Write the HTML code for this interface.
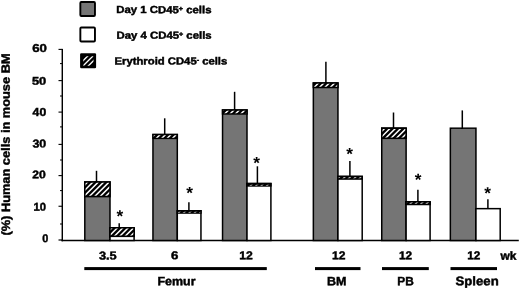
<!DOCTYPE html>
<html><head><meta charset="utf-8"><title>Figure</title>
<style>html,body{margin:0;padding:0;background:#fff}svg{display:block}text{font-family:"Liberation Sans",Arial,Helvetica,sans-serif;font-weight:bold;fill:#000;stroke:#000;stroke-width:0.45px}</style>
</head><body>
<svg width="520" height="288" viewBox="0 0 520 288">
<defs><filter id="b" x="0" y="0" width="520" height="288" filterUnits="userSpaceOnUse"><feGaussianBlur stdDeviation="0.22"/></filter></defs>
<rect width="520" height="288" fill="#fff"/>
<g filter="url(#b)">
<rect width="520" height="288" fill="#fff"/>
<rect x="80.35" y="1.95" width="14.6" height="14.1" fill="#757575" stroke="#000" stroke-width="1.9" rx="1"/>
<rect x="80.35" y="27.45" width="14.6" height="14.1" fill="#fff" stroke="#000" stroke-width="1.9" rx="1"/>
<rect x="80.1" y="53.3" width="16" height="14.9" fill="#000" rx="1.2"/>
<clipPath id="lc"><rect x="83.3" y="56.2" width="10.2" height="9.5"/></clipPath>
<g clip-path="url(#lc)" stroke="#fff" stroke-width="1.35">
<line x1="68.80" y1="75" x2="98.80" y2="45"/>
<line x1="74.00" y1="75" x2="104.00" y2="45"/>
<line x1="79.20" y1="75" x2="109.20" y2="45"/>
</g>
<line x1="62.3" y1="48.9" x2="62.3" y2="241.3" stroke="#000" stroke-width="1.45"/>
<line x1="61.5" y1="240.5" x2="518.8" y2="240.5" stroke="#000" stroke-width="1.7"/>
<line x1="58.5" y1="240.0" x2="62.3" y2="240.0" stroke="#000" stroke-width="1.2"/>
<line x1="58.5" y1="49.4" x2="62.3" y2="49.4" stroke="#000" stroke-width="1.1"/>
<line x1="58.5" y1="80.6" x2="62.3" y2="80.6" stroke="#000" stroke-width="1.1"/>
<line x1="58.5" y1="112.1" x2="62.3" y2="112.1" stroke="#000" stroke-width="1.1"/>
<line x1="58.5" y1="144.4" x2="62.3" y2="144.4" stroke="#000" stroke-width="1.1"/>
<line x1="58.5" y1="175.6" x2="62.3" y2="175.6" stroke="#000" stroke-width="1.1"/>
<line x1="58.5" y1="206.25" x2="62.3" y2="206.25" stroke="#000" stroke-width="1.1"/>
<line x1="60" y1="63.6" x2="62.3" y2="63.6" stroke="#000" stroke-width="1"/>
<line x1="60" y1="96" x2="62.3" y2="96" stroke="#000" stroke-width="1"/>
<line x1="60" y1="126.9" x2="62.3" y2="126.9" stroke="#000" stroke-width="1"/>
<line x1="60" y1="160" x2="62.3" y2="160" stroke="#000" stroke-width="1"/>
<line x1="60" y1="190.6" x2="62.3" y2="190.6" stroke="#000" stroke-width="1"/>
<line x1="60" y1="224" x2="62.3" y2="224" stroke="#000" stroke-width="1"/>
<text transform="translate(9.9,235.6) rotate(-90.04)" font-size="12" textLength="182.2" lengthAdjust="spacingAndGlyphs">(%) Human cells in mouse BM</text>
<rect x="84.80" y="181.95" width="25.20" height="58.55" fill="#757575" stroke="#000" stroke-width="1.5"/>
<rect x="84.05" y="181.20" width="26.70" height="16.15" fill="#000"/>
<clipPath id="c1"><rect x="85.55" y="182.70" width="23.70" height="13.15"/></clipPath>
<g clip-path="url(#c1)" stroke="#fff" stroke-width="1.5">
<line x1="71.75" y1="197.85" x2="88.90" y2="180.70"/>
<line x1="77.15" y1="197.85" x2="94.30" y2="180.70"/>
<line x1="82.55" y1="197.85" x2="99.70" y2="180.70"/>
<line x1="87.95" y1="197.85" x2="105.10" y2="180.70"/>
<line x1="93.35" y1="197.85" x2="110.50" y2="180.70"/>
<line x1="98.75" y1="197.85" x2="115.90" y2="180.70"/>
<line x1="104.15" y1="197.85" x2="121.30" y2="180.70"/>
</g>
<rect x="110.00" y="227.85" width="24.10" height="12.65" fill="#fff" stroke="#000" stroke-width="1.5"/>
<rect x="109.25" y="227.10" width="25.60" height="10.00" fill="#000"/>
<clipPath id="c2"><rect x="110.75" y="228.60" width="22.60" height="7.00"/></clipPath>
<g clip-path="url(#c2)" stroke="#fff" stroke-width="1.5">
<line x1="102.20" y1="237.60" x2="113.20" y2="226.60"/>
<line x1="107.60" y1="237.60" x2="118.60" y2="226.60"/>
<line x1="113.00" y1="237.60" x2="124.00" y2="226.60"/>
<line x1="118.40" y1="237.60" x2="129.40" y2="226.60"/>
<line x1="123.80" y1="237.60" x2="134.80" y2="226.60"/>
<line x1="129.20" y1="237.60" x2="140.20" y2="226.60"/>
</g>
<rect x="152.95" y="134.55" width="24.35" height="105.95" fill="#757575" stroke="#000" stroke-width="1.5"/>
<rect x="152.20" y="133.80" width="25.85" height="5.35" fill="#000"/>
<clipPath id="c3"><rect x="153.70" y="135.30" width="22.85" height="2.35"/></clipPath>
<g clip-path="url(#c3)" stroke="#fff" stroke-width="1.5">
<line x1="149.65" y1="139.65" x2="156.00" y2="133.30"/>
<line x1="155.05" y1="139.65" x2="161.40" y2="133.30"/>
<line x1="160.45" y1="139.65" x2="166.80" y2="133.30"/>
<line x1="165.85" y1="139.65" x2="172.20" y2="133.30"/>
<line x1="171.25" y1="139.65" x2="177.60" y2="133.30"/>
</g>
<rect x="177.30" y="210.75" width="23.65" height="29.75" fill="#fff" stroke="#000" stroke-width="1.5"/>
<rect x="176.55" y="210.00" width="25.15" height="3.80" fill="#000"/>
<clipPath id="c4"><rect x="178.05" y="211.85" width="22.15" height="1.00"/></clipPath>
<g clip-path="url(#c4)" stroke="#bbb" stroke-width="1.5">
<line x1="176.45" y1="214.85" x2="181.45" y2="209.85"/>
<line x1="181.85" y1="214.85" x2="186.85" y2="209.85"/>
<line x1="187.25" y1="214.85" x2="192.25" y2="209.85"/>
<line x1="192.65" y1="214.85" x2="197.65" y2="209.85"/>
<line x1="198.05" y1="214.85" x2="203.05" y2="209.85"/>
</g>
<rect x="222.55" y="109.95" width="24.45" height="130.55" fill="#757575" stroke="#000" stroke-width="1.5"/>
<rect x="221.80" y="109.20" width="25.95" height="5.50" fill="#000"/>
<clipPath id="c5"><rect x="223.30" y="110.70" width="22.95" height="2.50"/></clipPath>
<g clip-path="url(#c5)" stroke="#fff" stroke-width="1.5">
<line x1="218.00" y1="115.20" x2="224.50" y2="108.70"/>
<line x1="223.40" y1="115.20" x2="229.90" y2="108.70"/>
<line x1="228.80" y1="115.20" x2="235.30" y2="108.70"/>
<line x1="234.20" y1="115.20" x2="240.70" y2="108.70"/>
<line x1="239.60" y1="115.20" x2="246.10" y2="108.70"/>
<line x1="245.00" y1="115.20" x2="251.50" y2="108.70"/>
</g>
<rect x="247.00" y="183.55" width="23.90" height="56.95" fill="#fff" stroke="#000" stroke-width="1.5"/>
<rect x="246.25" y="182.80" width="25.40" height="3.90" fill="#000"/>
<clipPath id="c6"><rect x="247.75" y="184.70" width="22.40" height="1.00"/></clipPath>
<g clip-path="url(#c6)" stroke="#bbb" stroke-width="1.5">
<line x1="243.30" y1="187.70" x2="248.30" y2="182.70"/>
<line x1="248.70" y1="187.70" x2="253.70" y2="182.70"/>
<line x1="254.10" y1="187.70" x2="259.10" y2="182.70"/>
<line x1="259.50" y1="187.70" x2="264.50" y2="182.70"/>
<line x1="264.90" y1="187.70" x2="269.90" y2="182.70"/>
</g>
<rect x="313.35" y="83.00" width="24.60" height="157.50" fill="#757575" stroke="#000" stroke-width="1.5"/>
<rect x="312.60" y="82.25" width="26.10" height="6.00" fill="#000"/>
<clipPath id="c7"><rect x="314.10" y="83.75" width="23.10" height="3.00"/></clipPath>
<g clip-path="url(#c7)" stroke="#fff" stroke-width="1.5">
<line x1="307.35" y1="88.75" x2="314.35" y2="81.75"/>
<line x1="312.75" y1="88.75" x2="319.75" y2="81.75"/>
<line x1="318.15" y1="88.75" x2="325.15" y2="81.75"/>
<line x1="323.55" y1="88.75" x2="330.55" y2="81.75"/>
<line x1="328.95" y1="88.75" x2="335.95" y2="81.75"/>
<line x1="334.35" y1="88.75" x2="341.35" y2="81.75"/>
</g>
<rect x="337.95" y="176.45" width="24.25" height="64.05" fill="#fff" stroke="#000" stroke-width="1.5"/>
<rect x="337.20" y="175.70" width="25.75" height="4.10" fill="#000"/>
<clipPath id="c8"><rect x="338.70" y="177.20" width="22.75" height="1.10"/></clipPath>
<g clip-path="url(#c8)" stroke="#eee" stroke-width="1.5">
<line x1="336.10" y1="180.30" x2="341.20" y2="175.20"/>
<line x1="341.50" y1="180.30" x2="346.60" y2="175.20"/>
<line x1="346.90" y1="180.30" x2="352.00" y2="175.20"/>
<line x1="352.30" y1="180.30" x2="357.40" y2="175.20"/>
<line x1="357.70" y1="180.30" x2="362.80" y2="175.20"/>
</g>
<rect x="381.75" y="128.15" width="24.35" height="112.35" fill="#757575" stroke="#000" stroke-width="1.5"/>
<rect x="381.00" y="127.40" width="25.85" height="11.70" fill="#000"/>
<clipPath id="c9"><rect x="382.50" y="128.90" width="22.85" height="8.70"/></clipPath>
<g clip-path="url(#c9)" stroke="#fff" stroke-width="1.5">
<line x1="373.45" y1="139.60" x2="386.15" y2="126.90"/>
<line x1="378.85" y1="139.60" x2="391.55" y2="126.90"/>
<line x1="384.25" y1="139.60" x2="396.95" y2="126.90"/>
<line x1="389.65" y1="139.60" x2="402.35" y2="126.90"/>
<line x1="395.05" y1="139.60" x2="407.75" y2="126.90"/>
<line x1="400.45" y1="139.60" x2="413.15" y2="126.90"/>
</g>
<rect x="406.10" y="201.85" width="24.00" height="38.65" fill="#fff" stroke="#000" stroke-width="1.5"/>
<rect x="405.35" y="201.10" width="25.50" height="4.15" fill="#000"/>
<clipPath id="c10"><rect x="406.85" y="202.60" width="22.50" height="1.15"/></clipPath>
<g clip-path="url(#c10)" stroke="#ccc" stroke-width="1.5">
<line x1="402.95" y1="205.75" x2="408.10" y2="200.60"/>
<line x1="408.35" y1="205.75" x2="413.50" y2="200.60"/>
<line x1="413.75" y1="205.75" x2="418.90" y2="200.60"/>
<line x1="419.15" y1="205.75" x2="424.30" y2="200.60"/>
<line x1="424.55" y1="205.75" x2="429.70" y2="200.60"/>
</g>
<rect x="450.35" y="128.20" width="25.60" height="112.30" fill="#757575" stroke="#000" stroke-width="1.5"/>
<rect x="475.95" y="208.65" width="24.25" height="31.85" fill="#fff" stroke="#000" stroke-width="1.5"/>
<line x1="96.5" y1="170.8" x2="96.5" y2="181.95000000000002" stroke="#000" stroke-width="1.5"/>
<line x1="119.2" y1="223.2" x2="119.2" y2="227.85" stroke="#000" stroke-width="1.5"/>
<line x1="164.7" y1="118.3" x2="164.7" y2="134.55" stroke="#000" stroke-width="1.5"/>
<line x1="188.9" y1="202.2" x2="188.9" y2="210.75" stroke="#000" stroke-width="1.5"/>
<line x1="234.6" y1="91.8" x2="234.6" y2="109.95" stroke="#000" stroke-width="1.5"/>
<line x1="257.4" y1="166.3" x2="257.4" y2="183.55" stroke="#000" stroke-width="1.5"/>
<line x1="325.9" y1="61.8" x2="325.9" y2="83.0" stroke="#000" stroke-width="1.5"/>
<line x1="349.9" y1="161.1" x2="349.9" y2="176.45000000000002" stroke="#000" stroke-width="1.5"/>
<line x1="393.5" y1="112.5" x2="393.5" y2="128.15" stroke="#000" stroke-width="1.5"/>
<line x1="417.9" y1="189.7" x2="417.9" y2="201.85" stroke="#000" stroke-width="1.5"/>
<line x1="462.3" y1="110.4" x2="462.3" y2="128.20000000000002" stroke="#000" stroke-width="1.5"/>
<line x1="487.9" y1="199.3" x2="487.9" y2="208.65" stroke="#000" stroke-width="1.5"/>
<text transform="rotate(0.05 119.9 213.2)" x="119.9" y="222.00" font-size="17.2" text-anchor="middle" style="stroke:none">*</text>
<text transform="rotate(0.05 189.7 190.0)" x="189.7" y="198.80" font-size="17.2" text-anchor="middle" style="stroke:none">*</text>
<text transform="rotate(0.05 256.65 160.0)" x="256.65" y="168.80" font-size="17.2" text-anchor="middle" style="stroke:none">*</text>
<text transform="rotate(0.05 349.5 151.0)" x="349.5" y="159.80" font-size="17.2" text-anchor="middle" style="stroke:none">*</text>
<text transform="rotate(0.05 418.05 176.6)" x="418.05" y="185.40" font-size="17.2" text-anchor="middle" style="stroke:none">*</text>
<text transform="rotate(0.05 487.7 190.2)" x="487.7" y="199.00" font-size="17.2" text-anchor="middle" style="stroke:none">*</text>
<rect x="84.3" y="267.1" width="182.5" height="3.0" fill="#000"/>
<rect x="315" y="267.1" width="45.5" height="3.0" fill="#000"/>
<rect x="382" y="267.1" width="46.8" height="3.0" fill="#000"/>
<rect x="450.5" y="267.1" width="46.5" height="3.0" fill="#000"/>
<text transform="rotate(0.05 116.29 13.1)" x="116.29" y="13.1" font-size="10.22" textLength="95.19" lengthAdjust="spacingAndGlyphs">Day 1 CD45<tspan font-size="6.4" dy="-2.5">+</tspan><tspan dy="2.5"> cells</tspan></text>
<text transform="rotate(0.05 116.5 38.75)" x="116.5" y="38.75" font-size="10.22" textLength="95.15" lengthAdjust="spacingAndGlyphs">Day 4 CD45<tspan font-size="6.4" dy="-2.5">+</tspan><tspan dy="2.5"> cells</tspan></text>
<text transform="rotate(0.05 114.5 64.5)" x="114.5" y="64.5" font-size="10.22" textLength="112.79" lengthAdjust="spacingAndGlyphs">Erythroid CD45<tspan font-size="6.4" dy="-2.5">-</tspan><tspan dy="2.5"> cells</tspan></text>
<text transform="rotate(0.05 32.23 52.1)" x="32.23" y="52.1" font-size="11.34" textLength="14.73" lengthAdjust="spacingAndGlyphs">60</text>
<text transform="rotate(0.05 31.96 84.75)" x="31.96" y="84.75" font-size="11.13" textLength="14.27" lengthAdjust="spacingAndGlyphs">50</text>
<text transform="rotate(0.05 32.64 116.1)" x="32.64" y="116.1" font-size="11.62" textLength="13.56" lengthAdjust="spacingAndGlyphs">40</text>
<text transform="rotate(0.05 32.45 147.4)" x="32.45" y="147.4" font-size="11.34" textLength="13.82" lengthAdjust="spacingAndGlyphs">30</text>
<text transform="rotate(0.05 32.25 178.25)" x="32.25" y="178.25" font-size="11.13" textLength="13.5" lengthAdjust="spacingAndGlyphs">20</text>
<text transform="rotate(0.05 33.53 210.7)" x="33.53" y="210.7" font-size="11.48" textLength="12.53" lengthAdjust="spacingAndGlyphs">10</text>
<text transform="rotate(0.05 42.27 242.25)" x="42.27" y="242.25" font-size="11.55" textLength="6.04" lengthAdjust="spacingAndGlyphs">0</text>
<text transform="rotate(0.05 98.95 259.4)" x="98.95" y="259.4" font-size="11.34" textLength="17.79" lengthAdjust="spacingAndGlyphs">3.5</text>
<text transform="rotate(0.05 171.12 259.3)" x="171.12" y="259.3" font-size="11.34" textLength="7.38" lengthAdjust="spacingAndGlyphs">6</text>
<text transform="rotate(0.05 239.2 259.3)" x="239.2" y="259.3" font-size="11.34" textLength="13.53" lengthAdjust="spacingAndGlyphs">12</text>
<text transform="rotate(0.05 331.95 259.3)" x="331.95" y="259.3" font-size="11.34" textLength="13.5" lengthAdjust="spacingAndGlyphs">12</text>
<text transform="rotate(0.05 398.96 259.3)" x="398.96" y="259.3" font-size="11.34" textLength="13.18" lengthAdjust="spacingAndGlyphs">12</text>
<text transform="rotate(0.05 467.3 259.3)" x="467.3" y="259.3" font-size="11.34" textLength="13.11" lengthAdjust="spacingAndGlyphs">12</text>
<text transform="rotate(0.05 500.51 259.8)" x="500.51" y="259.8" font-size="11.67" textLength="15.88" lengthAdjust="spacingAndGlyphs">wk</text>
<text transform="rotate(0.05 157.51 285.3)" x="157.51" y="285.3" font-size="11.96" textLength="38.0" lengthAdjust="spacingAndGlyphs">Femur</text>
<text transform="rotate(0.05 327.0 285.3)" x="327.0" y="285.3" font-size="11.96" textLength="19.5" lengthAdjust="spacingAndGlyphs">BM</text>
<text transform="rotate(0.05 397.3 285.3)" x="397.3" y="285.3" font-size="11.96" textLength="16.46" lengthAdjust="spacingAndGlyphs">PB</text>
<text transform="rotate(0.05 455.51 285.3)" x="455.51" y="285.3" font-size="12.54" textLength="43.19" lengthAdjust="spacingAndGlyphs">Spleen</text>
</g>
</svg></body></html>
